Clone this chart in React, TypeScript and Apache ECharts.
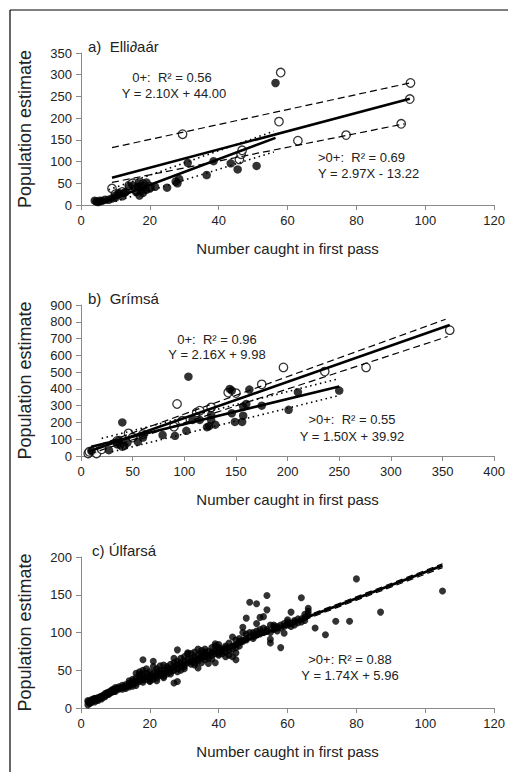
import React, { useEffect, useRef } from "react";
import * as echarts from "echarts";

const FONT = '"Liberation Sans", Arial, sans-serif';

// ---------- Panel a) Elli∂aár ----------
const aJuvenile: [number, number][] = [
  [9, 38], [10, 25], [12, 30], [14, 45], [15, 50], [16, 35], [17, 52], [18, 48], [20, 42],
  [29.5, 163], [46, 105], [46.5, 117], [46.8, 126], [57.5, 192], [58, 305], [63, 148],
  [77, 161], [93, 187], [95.5, 244], [95.7, 281],
];
const aOlder: [number, number][] = [
  [4, 10], [4.5, 8], [5, 7], [5.5, 10], [6, 9], [7, 12], [8, 12], [9, 15], [10, 17], [10, 22],
  [11, 25], [11, 28], [12, 20], [12.5, 28], [13, 30], [14, 43], [15, 45], [16, 30], [16.5, 42],
  [17, 22], [17, 40], [17, 50], [17.5, 35], [18, 45], [18, 28], [19, 35], [19, 52], [20, 38],
  [21.5, 42], [25, 40], [27.5, 54], [28, 50], [28.5, 60], [31, 97], [36.5, 69], [38.5, 101],
  [43.5, 96], [45.5, 82], [51, 90], [56.5, 281],
];
const aJuvFit: [number, number][] = [[9, 62.9], [95.5, 244.6]];
const aJuvUpper: [number, number][] = [[9, 132], [95.5, 281]];
const aJuvLower: [number, number][] = [[9, 52], [94, 187]];
const aOldFit: [number, number][] = [[5, 1.6], [56.5, 154.6]];
const aOldUpper: [number, number][] = [[8, 35], [56, 170]];
const aOldLower: [number, number][] = [[10, 8], [56, 122]];

// ---------- Panel b) Grímsá ----------
const bJuvenile: [number, number][] = [
  [7, 15], [8, 25], [12, 35], [15, 15], [20, 40], [35, 90], [40, 60], [46, 135], [50, 110],
  [60, 130], [90, 175], [93, 310], [98, 210], [112, 260], [115, 270], [126, 290], [142.5, 378],
  [150, 375], [175, 427], [196, 528], [236, 503], [276, 528], [357, 750],
];
const bOlder: [number, number][] = [
  [10, 30], [27, 35], [35, 70], [37, 95], [38, 65], [40, 200], [42, 60], [45, 80], [55, 85],
  [60, 110], [79, 125], [91, 120], [102, 150], [104, 473], [108, 215], [115, 215], [122, 172],
  [124, 178], [126, 215], [126, 245], [130, 187], [144, 400], [146, 390], [146, 255], [149, 203],
  [156, 203], [157, 240], [157, 295], [160, 310], [163, 396], [175, 300], [201, 275], [210, 380],
  [250, 390],
];
const bJuvFit: [number, number][] = [[7, 25.1], [357, 781.1]];
const bJuvUpper: [number, number][] = [[8, 45], [353, 815]];
const bJuvLower: [number, number][] = [[8, 12], [355, 712]];
const bOldFit: [number, number][] = [[10, 54.9], [250, 414.9]];
const bOldUpper: [number, number][] = [[20, 105], [248, 458]];
const bOldLower: [number, number][] = [[30, 25], [248, 358]];

// ---------- Panel c) Úlfarsá ----------
const cOlder: [number, number][] = [
  [2, 4], [2, 8], [2, 10], [2.5, 6], [2.5, 9], [3, 9], [3, 11], [3, 7], [3.5, 10], [3.5, 12],
  [4, 10], [4, 12], [4, 13], [4, 8], [4.5, 11], [4.5, 13], [5, 12], [5, 14], [5, 10], [5.5, 13],
  [5.5, 15], [6, 14], [6, 16], [6, 12], [6.5, 15], [6.5, 17], [7, 17], [7, 19], [7, 15],
  [7.5, 18], [7.5, 20], [8, 19], [8, 21], [8, 18], [8.5, 20], [8.5, 22], [9, 21], [9, 23],
  [9, 24], [9.5, 22], [9.5, 25], [10, 24], [10, 27], [10, 22], [10.5, 26], [11, 26], [11, 25],
  [11, 28], [12, 27], [12, 25], [12, 30], [12.5, 28], [13, 28], [13, 31], [13, 26], [14, 30],
  [14, 36], [14, 28], [14, 33], [14.5, 31], [15, 32], [15, 35], [15, 29], [15, 38], [16, 36],
  [16, 46], [16, 33], [16, 40], [16, 30], [17, 38], [17, 45], [17, 35], [17, 42], [17, 48],
  [18, 40], [18, 64], [18, 50], [18, 37], [18, 45], [18, 34], [19, 38], [19, 42], [19, 46],
  [19, 52], [20, 40], [20, 44], [20, 36], [20, 48], [20, 35], [21, 62], [21, 55], [21, 42],
  [21, 38], [21, 46], [22, 44], [22, 48], [22, 52], [22, 40], [22, 36], [23, 43], [23, 50],
  [23, 56], [23, 46], [24, 46], [24, 57], [24, 50], [24, 42], [24, 40], [25, 50], [25, 45],
  [25, 52], [25, 48], [25, 55], [26, 48], [26, 52], [26, 58], [26, 45], [27, 33], [27, 60],
  [27, 55], [27, 50], [27, 66], [28, 35], [28, 77], [28, 62], [28, 52], [28, 48], [28, 58],
  [29, 60], [29, 55], [29, 66], [29, 50], [30, 58], [30, 62], [30, 52], [30, 68], [30, 55],
  [31, 73], [31, 60], [31, 65], [31, 72], [32, 62], [32, 66], [32, 72], [32, 58], [33, 60],
  [33, 64], [33, 68], [33, 74], [33, 57], [34, 53], [34, 70], [34, 78], [34, 65], [34, 62],
  [35, 68], [35, 72], [35, 66], [35, 76], [35, 60], [36, 64], [36, 70], [36, 74], [36, 78],
  [36, 68], [37, 59], [37, 70], [37, 66], [37, 75], [38, 70], [38, 74], [38, 80], [38, 65],
  [39, 60], [39, 85], [39, 82], [39, 76], [39, 72], [40, 72], [40, 78], [40, 80], [40, 84],
  [40, 70], [41, 75], [41, 78], [41, 72], [42, 74], [42, 80], [42, 82], [42, 68], [43, 76],
  [43, 80], [43, 70], [43, 86], [44, 82], [44, 94], [44, 78], [44, 68], [45, 64], [45, 73],
  [45, 84], [45, 90], [45, 80], [46, 82], [46, 88], [46, 92], [46, 86], [47, 107], [47, 100],
  [47, 90], [47, 88], [48, 119], [48, 98], [48, 92], [48, 90], [49, 140], [49, 94], [49, 100],
  [50, 92], [50, 100], [50, 96], [51, 138], [51, 112], [51, 98], [51, 102], [52, 100], [52, 104],
  [52, 98], [52, 120], [53, 121], [53, 106], [53, 100], [54, 149], [54, 130], [54, 104],
  [54, 102], [55, 91], [55, 86], [55, 110], [55, 100], [56, 104], [56, 108], [56, 110],
  [57, 106], [57, 102], [57, 108], [58, 80], [58, 106], [58, 110], [59, 99], [59, 108],
  [59, 112], [60, 110], [60, 114], [60, 117], [61, 127], [61, 112], [61, 108], [62, 110],
  [62, 114], [62, 116], [63, 113], [63, 118], [64, 146], [64, 118], [64, 114], [65, 120],
  [65, 124], [65, 116], [66, 132], [66, 124], [66, 128], [68, 106], [71, 97], [74, 115],
  [78, 115], [80, 171], [87, 127], [105, 155],
];
const cFit: [number, number][] = [[2, 9.4], [105, 188.7]];
const cUpper: [number, number][] = [[2, 11], [105, 191]];
const cLower: [number, number][] = [[2, 8], [105, 186]];

// ---------- Axis tick settings ----------
const xMaxA = 120, xStepA = 20;
const yMaxA = 350, yStepA = 50;
const xMaxB = 400, xStepB = 50;
const yMaxB = 900, yStepB = 100;
const xMaxC = 120, xStepC = 20;
const yMaxC = 200, yStepC = 50;

const X_TITLE = "Number caught in first pass";
const Y_TITLE = "Population estimate";

const AXIS_COLOR = "#8a8a8a";

function xAxis(grid: number, max: number, step: number) {
  return {
    type: "value",
    gridIndex: grid,
    min: 0,
    max,
    interval: step,
    name: X_TITLE,
    nameLocation: "middle",
    nameGap: 36,
    nameTextStyle: { fontFamily: FONT, fontSize: 15, color: "#222" },
    axisLine: { show: true, onZero: false, lineStyle: { color: AXIS_COLOR, width: 1 } },
    axisTick: { show: true, inside: false, length: 5, lineStyle: { color: AXIS_COLOR } },
    axisLabel: { fontFamily: FONT, fontSize: 13, color: "#222", margin: 9 },
    splitLine: { show: false },
  };
}

function yAxis(grid: number, max: number, step: number) {
  return {
    type: "value",
    gridIndex: grid,
    min: 0,
    max,
    interval: step,
    name: Y_TITLE,
    nameLocation: "middle",
    nameRotate: 90,
    nameGap: 47,
    nameTextStyle: { fontFamily: FONT, fontSize: 18, color: "#222" },
    axisLine: { show: true, onZero: false, lineStyle: { color: AXIS_COLOR, width: 1 } },
    axisTick: { show: true, inside: false, length: 5, lineStyle: { color: AXIS_COLOR } },
    axisLabel: { fontFamily: FONT, fontSize: 13, color: "#222", margin: 9 },
    splitLine: { show: false },
  };
}

function openScatter(idx: number, data: [number, number][], size = 8) {
  return {
    type: "scatter",
    xAxisIndex: idx,
    yAxisIndex: idx,
    data,
    symbol: "circle",
    symbolSize: size,
    itemStyle: { color: "#ffffff", borderColor: "#000", borderWidth: 1.3 },
    z: 2,
  };
}

function filledScatter(idx: number, data: [number, number][], size = 8) {
  return {
    type: "scatter",
    xAxisIndex: idx,
    yAxisIndex: idx,
    data,
    symbol: "circle",
    symbolSize: size,
    itemStyle: { color: "#000", borderColor: "#000", borderWidth: 0 },
    z: 3,
  };
}

function line(idx: number, data: [number, number][], kind: "solid" | "dashed" | "dotted") {
  const style =
    kind === "solid"
      ? { color: "#000", width: 2.6, type: "solid" }
      : kind === "dashed"
      ? { color: "#000", width: 1.2, type: [7, 4] }
      : { color: "#000", width: 1.6, type: [1.5, 3.5] };
  return {
    type: "line",
    xAxisIndex: idx,
    yAxisIndex: idx,
    data,
    symbol: "none",
    silent: true,
    lineStyle: style,
    z: 4,
  };
}

function txt(x: number, y: number, text: string, align = "center", size = 13) {
  return {
    type: "text",
    x,
    y,
    silent: true,
    style: {
      text,
      fill: "#222",
      fontFamily: FONT,
      fontSize: size,
      align,
      verticalAlign: "middle",
    },
    z: 10,
  };
}

export default function App() {
  const ref = useRef<HTMLDivElement>(null);
  useEffect(() => {
    if (!ref.current) return;
    const chart = echarts.init(ref.current, undefined, { renderer: "svg" });
    chart.setOption({
      animation: false,
      backgroundColor: "#ffffff",
      grid: [
        { left: 81, top: 53, width: 414, height: 152 },
        { left: 81, top: 305, width: 414, height: 151 },
        { left: 81, top: 557, width: 415, height: 151 },
      ],
      xAxis: [xAxis(0, xMaxA, xStepA), xAxis(1, xMaxB, xStepB), xAxis(2, xMaxC, xStepC)],
      yAxis: [yAxis(0, yMaxA, yStepA), yAxis(1, yMaxB, yStepB), yAxis(2, yMaxC, yStepC)],
      series: [
        filledScatter(0, aOlder, 8.5),
        openScatter(0, aJuvenile, 8.5),
        line(0, aJuvFit, "solid"),
        line(0, aJuvUpper, "dashed"),
        line(0, aJuvLower, "dashed"),
        line(0, aOldFit, "solid"),
        line(0, aOldUpper, "dotted"),
        line(0, aOldLower, "dotted"),

        filledScatter(1, bOlder, 8.5),
        openScatter(1, bJuvenile, 8.5),
        line(1, bJuvFit, "solid"),
        line(1, bJuvUpper, "dashed"),
        line(1, bJuvLower, "dashed"),
        line(1, bOldFit, "solid"),
        line(1, bOldUpper, "dotted"),
        line(1, bOldLower, "dotted"),

        filledScatter(2, cOlder, 7),
        line(2, cFit, "solid"),
        line(2, cUpper, "dashed"),
        line(2, cLower, "dashed"),
      ],
      graphic: [
        { type: "line", shape: { x1: 10, y1: 10, x2: 508, y2: 10 }, style: { stroke: "#000", lineWidth: 1.2 }, silent: true },
        { type: "line", shape: { x1: 10, y1: 10, x2: 10, y2: 772 }, style: { stroke: "#000", lineWidth: 1.2 }, silent: true },

        txt(88, 46, "a)  Elli\u2202aár", "left", 15),
        txt(172, 77, "0+:  R² = 0.56"),
        txt(174, 93, "Y = 2.10X + 44.00"),
        txt(318, 157, ">0+:  R² = 0.69", "left"),
        txt(318, 173, "Y = 2.97X - 13.22", "left"),

        txt(88, 298, "b)  Grímsá", "left", 15),
        txt(217, 339, "0+:  R² = 0.96"),
        txt(217, 354, "Y = 2.16X + 9.98"),
        txt(352, 419, ">0+:  R² = 0.55"),
        txt(352, 436, "Y = 1.50X + 39.92"),

        txt(92, 550, "c) Úlfarsá", "left", 15),
        txt(350, 659, ">0+: R² = 0.88"),
        txt(350, 675, "Y = 1.74X + 5.96"),
      ],
    });
    return () => chart.dispose();
  }, []);
  return (
    <div
      ref={ref}
      style={{ position: "absolute", left: 0, top: 0, width: 508, height: 772 }}
    />
  );
}
